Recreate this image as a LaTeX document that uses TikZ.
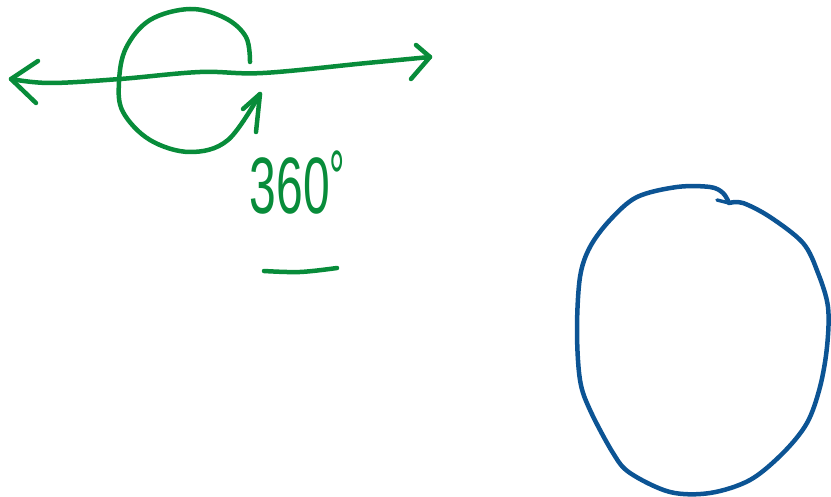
\documentclass[tikz,border=0pt]{standalone}
\usepackage{fontspec}
\newfontfamily\handfont{Liberation Sans}
\begin{document}
\begin{tikzpicture}[x=1pt,y=-1pt,
  pen/.style={line width=4.5pt,line cap=round,line join=round},
  greenpen/.style={pen,draw=inkgreen},
  bluepen/.style={pen,draw=inkblue},
  hand/.style={text=inkgreen,inner sep=0pt}]
\definecolor{inkgreen}{RGB}{8,140,58}
\definecolor{inkblue}{RGB}{12,84,148}
\useasboundingbox (0,0) rectangle (831,497);
% horizontal double arrow
\draw[greenpen] plot[smooth,tension=0.6] coordinates {(11,79) (50,83) (120,79) (200,72) (263,73) (367,63) (430,57)};
\draw[greenpen] (38,61) -- (11,79) -- (36,103);
\draw[greenpen] (416,45) -- (430,57) -- (411,79);
% turning arc
\draw[greenpen] plot[smooth,tension=0.6] coordinates {(250,62) (246,37) (225,18) (190,9) (150,20) (126,48) (119,82) (123,112) (150,140) (190,152) (228,140) (260,94)};
\draw[greenpen] (243,109) -- (260,94) -- (256,132);
% label
\node[hand,font=\handfont\fontsize{80}{80}\selectfont,xscale=0.6] (lbl) at (290,186) {360};
\node[hand,font=\handfont\fontsize{70}{70}\selectfont,xscale=0.55,yscale=1.1] (deg) at (337,178) {°};
\draw[greenpen] plot[smooth,tension=0.6] coordinates {(264,271) (300,272) (337,268)};
% blue oval
\draw[bluepen] plot[smooth,tension=0.55] coordinates {(729,203) (743,203) (770,217) (803,243) (818,273) (828,307) (827,347) (820,387) (807,423) (783,453) (750,480) (710,493) (670,492) (630,473) (613,453) (590,410) (580,380) (577,330) (580,277) (590,247) (610,220) (637,197) (677,187) (710,187) (723,193) (729,203)};
\draw[bluepen,line width=3.5pt] (717,200) -- (729,203);
\end{tikzpicture}
\end{document}
